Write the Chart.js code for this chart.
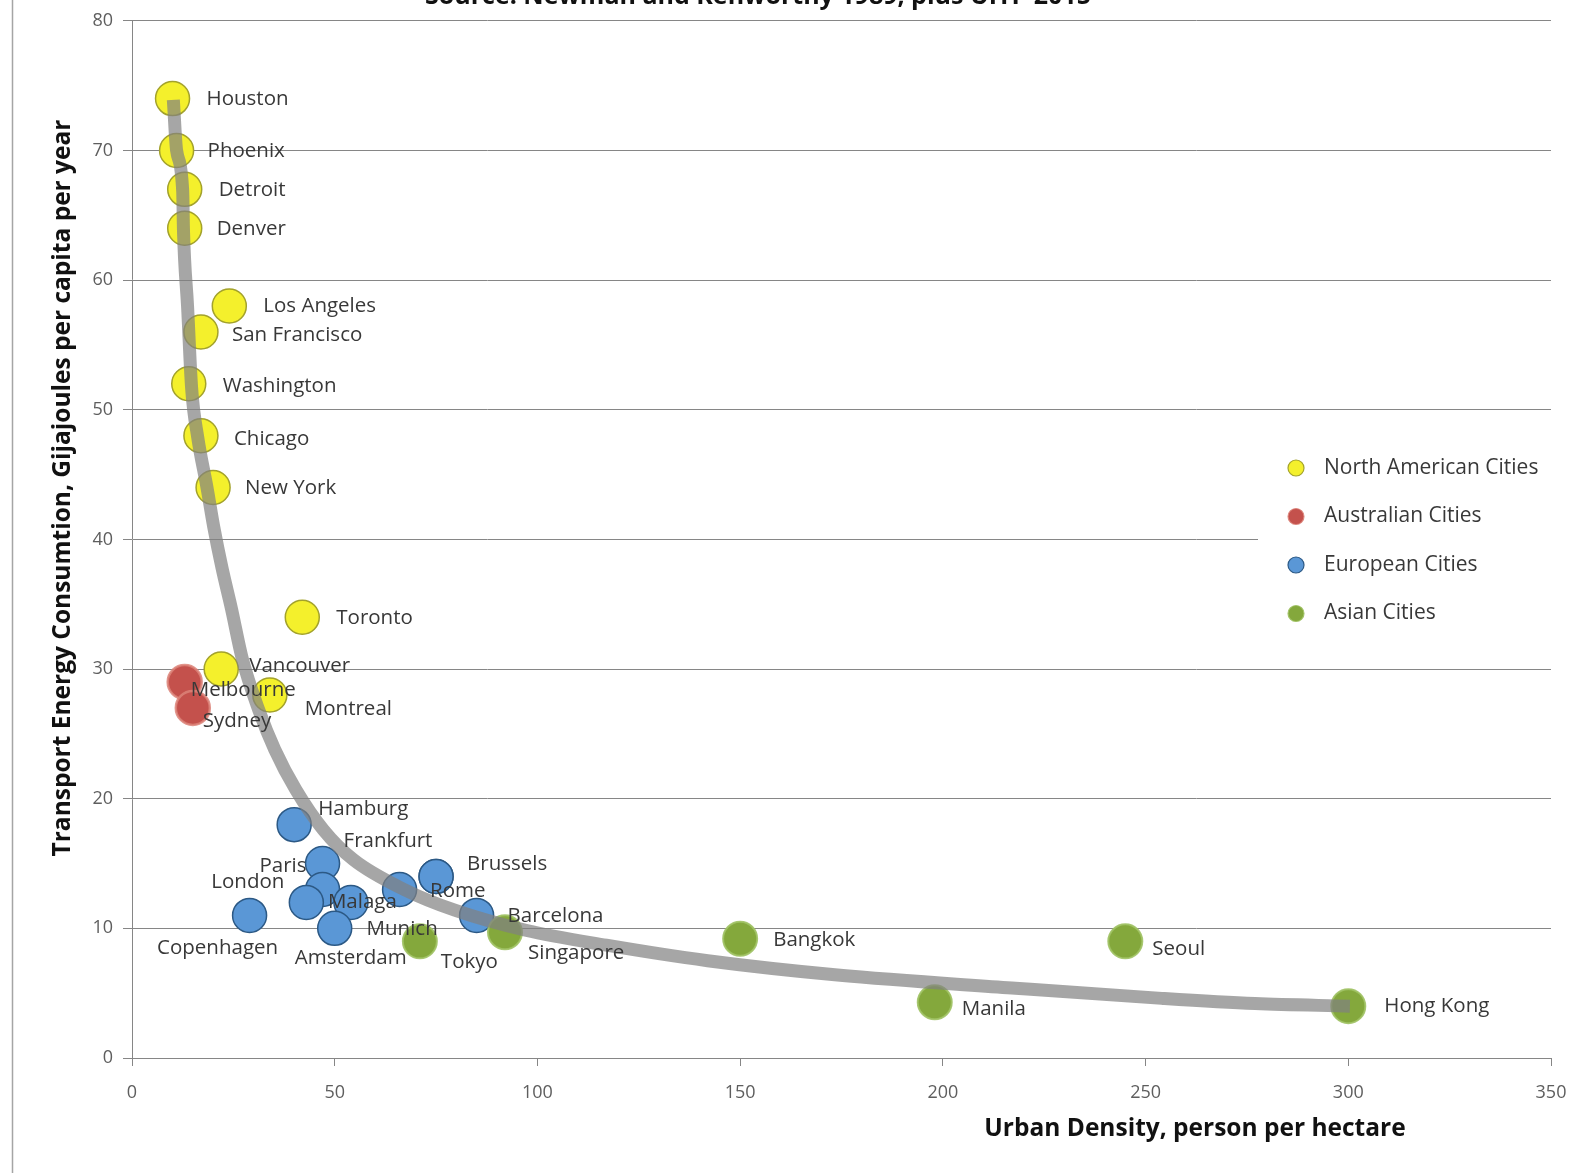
<!DOCTYPE html>
<html>
<head>
<meta charset="utf-8">
<title>Urban density and transport energy</title>
<script src="https://cdn.jsdelivr.net/npm/chart.js@4/dist/chart.umd.min.js"></script>
<style>
  html, body { margin: 0; padding: 0; background: #ffffff; }
  canvas { display: block; }
</style>
</head>
<body>
<canvas id="c" width="1585" height="1173"></canvas>
<script>
// Urban density (persons per hectare) vs transport energy (GJ per capita per year)
const northAmericaCities = ['Houston', 'Phoenix', 'Detroit', 'Denver', 'Los Angeles', 'San Francisco',
  'Washington', 'Chicago', 'New York', 'Toronto', 'Vancouver', 'Montreal'];
const northAmericaDensity = [10, 11, 13, 13, 24, 17, 14, 17, 20, 42, 22, 34];
const northAmericaEnergy  = [74, 70, 67, 64, 58, 56, 52, 48, 44, 34, 30, 28];

const australiaCities  = ['Melbourne', 'Sydney'];
const australiaDensity = [13, 15];
const australiaEnergy  = [29, 27];

const europeCities  = ['Hamburg', 'Frankfurt', 'Paris', 'London', 'Malaga', 'Munich',
  'Brussels', 'Rome', 'Barcelona', 'Copenhagen', 'Amsterdam'];
const europeDensity = [40, 47, 47, 43, 54, 66, 75, 75, 85, 29, 50];
const europeEnergy  = [18, 15, 13, 12, 12, 13, 14, 14, 11, 11, 10];

const asiaCities  = ['Tokyo', 'Singapore', 'Bangkok', 'Seoul', 'Manila', 'Hong Kong'];
const asiaDensity = [71, 92, 150, 245, 198, 300];
const asiaEnergy  = [9, 9.7, 9.2, 9, 4.3, 4];

// Hand-drawn trend band through the cloud of cities
const trendDensity = [10.2, 11, 12.5, 12.7, 13.7, 14.7, 16.2, 18.5, 20.2, 22.2, 24.5, 27.2, 31.2, 35.2,
  40.4, 47.2, 54.6, 67.1, 79.6, 97.1, 117, 142, 174, 217, 254, 277, 300.4];
const trendEnergy  = [73.9, 70, 66.9, 63.8, 58, 51.7, 47.9, 44, 40.9, 37.8, 34.7, 30.8, 26.9, 23.8,
  20.7, 17.6, 15.3, 13, 11.4, 9.85, 8.7, 7.5, 6.4, 5.4, 4.6, 4.2, 4.0];

const xTicks = [0, 50, 100, 150, 200, 250, 300, 350];
const yTicks = [0, 10, 20, 30, 40, 50, 60, 70, 80];

const groupNames = ['North American Cities', 'Australian Cities', 'European Cities', 'Asian Cities'];

const toPoints = (xs, ys) => xs.map((x, i) => ({ x: x, y: ys[i] }));

// label placement next to each bubble: [dx, dy, align]
const labelPlacement = {
  'Houston': [34, 1, 'left'], 'Phoenix': [31, 1, 'left'], 'Detroit': [34, 1, 'left'],
  'Denver': [32, 1, 'left'], 'Los Angeles': [34, 0, 'left'], 'San Francisco': [31, 3, 'left'],
  'Washington': [34, 2, 'left'], 'Chicago': [33, 3, 'left'], 'New York': [32, 1, 'left'],
  'Toronto': [34, 1, 'left'], 'Vancouver': [28, -3, 'left'], 'Montreal': [35, 14, 'left'],
  'Melbourne': [6, 8, 'left'], 'Sydney': [10, 13, 'left'],
  'Hamburg': [24, -15, 'left'], 'Frankfurt': [21, -22, 'left'], 'Paris': [-16, -23, 'right'],
  'London': [-22, -20, 'right'], 'Malaga': [-23, 0, 'left'], 'Munich': [-33, 40, 'left'],
  'Brussels': [31, -12, 'left'], 'Rome': [-6, 15, 'left'], 'Barcelona': [31, 1, 'left'],
  'Copenhagen': [-32, 33, 'center'], 'Amsterdam': [16, 30, 'center'],
  'Tokyo': [21, 21, 'left'], 'Singapore': [23, 21, 'left'], 'Bangkok': [33, 1, 'left'],
  'Seoul': [27, 8, 'left'], 'Manila': [27, 7, 'left'], 'Hong Kong': [36, 0, 'left']
};

const styles = [
  { fill: '#f4f02c', border: '#a3a22c' },
  { fill: '#c4514c', border: 'rgba(220,130,120,0.85)' },
  { fill: '#5a97d6', border: '#2c5985' },
  { fill: '#84a83c', border: 'rgba(160,194,100,0.9)' }
];

const labelFont = '20.5px "Open Sans", "Noto Sans", sans-serif';

const cityLabels = {
  id: 'cityLabels',
  afterDatasetsDraw(chart) {
    const ctx = chart.ctx;
    ctx.save();
    ctx.font = labelFont;
    ctx.fillStyle = '#383838';
    ctx.textBaseline = 'middle';
    chart.data.datasets.forEach((ds, di) => {
      if (!ds.cityNames) return;
      const meta = chart.getDatasetMeta(di);
      meta.data.forEach((pt, i) => {
        const name = ds.cityNames[i];
        const p = labelPlacement[name] || [24, 0, 'left'];
        ctx.textAlign = p[2];
        ctx.fillText(name, pt.x + p[0], pt.y + p[1]);
      });
    });
    ctx.restore();
  }
};

const sideLegend = {
  id: 'sideLegend',
  afterDatasetsDraw(chart) {
    const ctx = chart.ctx;
    const area = chart.chartArea;
    ctx.save();
    ctx.fillStyle = '#ffffff';
    ctx.fillRect(1258, 442, area.right - 1258, 195);
    ctx.font = '21px "Open Sans", "Noto Sans", sans-serif';
    ctx.textBaseline = 'middle';
    ctx.textAlign = 'left';
    groupNames.forEach((g, i) => {
      const y = 468 + i * 48.5;
      ctx.beginPath();
      ctx.arc(1296, y, 8, 0, Math.PI * 2);
      ctx.fillStyle = styles[i].fill;
      ctx.fill();
      ctx.lineWidth = 1.2;
      ctx.strokeStyle = styles[i].border;
      ctx.stroke();
      ctx.fillStyle = '#383838';
      ctx.fillText(g, 1324, y);
    });
    ctx.restore();
  }
};

const frameAndTitles = {
  id: 'frameAndTitles',
  afterDraw(chart) {
    const ctx = chart.ctx;
    ctx.save();
    // outer frame edge on the left
    ctx.strokeStyle = '#a5a5a5';
    ctx.lineWidth = 1.5;
    ctx.beginPath();
    ctx.moveTo(12.5, 0);
    ctx.lineTo(12.5, chart.height);
    ctx.stroke();
    // source line at the top
    ctx.fillStyle = '#111111';
    ctx.textAlign = 'center';
    ctx.textBaseline = 'alphabetic';
    ctx.font = 'bold 25px "Open Sans", "Noto Sans", sans-serif';
    ctx.fillText('Source: Newman and Kenworthy 1989, plus UITP 2015', 758, 4);
    // axis titles
    ctx.font = 'bold 24.5px "Open Sans", sans-serif';
    ctx.textBaseline = 'middle';
    ctx.fillText('Urban Density, person per hectare', 1195, 1129);
    ctx.translate(63, 488);
    ctx.rotate(-Math.PI / 2);
    ctx.fillText('Transport Energy Consumtion, Gijajoules per capita per year', 0, 0);
    ctx.restore();
  }
};

const scatterSet = (label, names, xs, ys, style, order, bw) => ({
  type: 'scatter',
  label: label,
  cityNames: names,
  data: toPoints(xs, ys),
  backgroundColor: style.fill,
  borderColor: style.border,
  borderWidth: bw,
  pointRadius: 17,
  pointHoverRadius: 17,
  order: order
});

const tickFont = { family: '"Open Sans", "Noto Sans", sans-serif', size: 18 };

new Chart(document.getElementById('c'), {
  data: {
    datasets: [
      {
        type: 'line',
        label: 'trend',
        data: toPoints(trendDensity, trendEnergy),
        borderColor: 'rgba(128,128,128,0.7)',
        borderWidth: 13,
        borderCapStyle: 'butt',
        pointRadius: 0,
        fill: false,
        cubicInterpolationMode: 'monotone',
        order: 0
      },
      scatterSet(groupNames[3], asiaCities, asiaDensity, asiaEnergy, styles[3], 1, 2),
      scatterSet(groupNames[0], northAmericaCities, northAmericaDensity, northAmericaEnergy, styles[0], 2, 1.5),
      scatterSet(groupNames[2], europeCities, europeDensity, europeEnergy, styles[2], 3, 1.5),
      scatterSet(groupNames[1], australiaCities, australiaDensity, australiaEnergy, styles[1], 4, 2.5)
    ]
  },
  options: {
    responsive: false,
    animation: false,
    events: [],
    layout: { padding: { top: 16, right: 34, left: 0, bottom: 0 } },
    plugins: {
      legend: { display: false },
      tooltip: { enabled: false },
      title: { display: false }
    },
    scales: {
      x: {
        type: 'linear',
        min: xTicks[0],
        max: xTicks[xTicks.length - 1],
        afterBuildTicks: s => { s.ticks = xTicks.map(v => ({ value: v })); },
        afterFit: s => { s.height = 115; },
        ticks: { font: tickFont, color: '#5e5e5e', padding: 16, maxRotation: 0 },
        grid: { drawOnChartArea: false, drawTicks: true, tickLength: 8, color: '#868686' },
        border: { color: '#868686', width: 1 }
      },
      y: {
        type: 'linear',
        min: yTicks[0],
        max: yTicks[yTicks.length - 1],
        afterBuildTicks: s => { s.ticks = yTicks.map(v => ({ value: v })); },
        afterFit: s => { s.width = 132; },
        ticks: { font: tickFont, color: '#5e5e5e', padding: 10 },
        grid: { color: '#868686', tickLength: 9, drawTicks: true },
        border: { color: '#868686', width: 1 }
      }
    }
  },
  plugins: [cityLabels, sideLegend, frameAndTitles]
});
</script>
</body>
</html>
